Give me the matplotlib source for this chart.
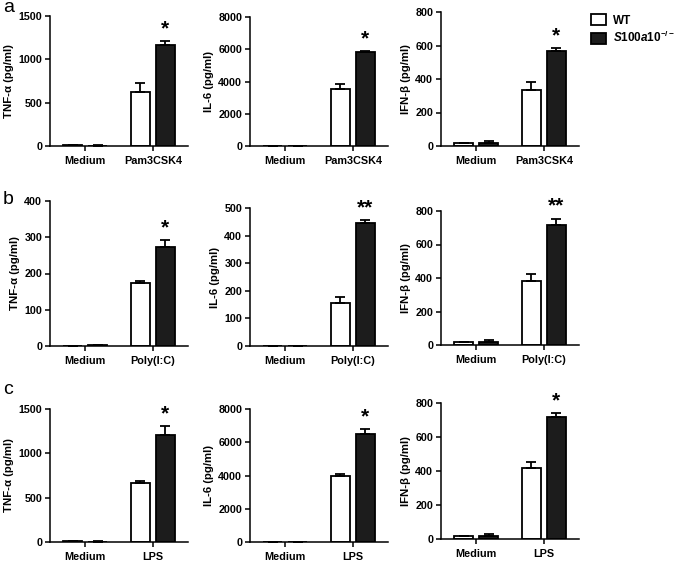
import matplotlib
matplotlib.use("Agg")
import matplotlib.pyplot as plt
from matplotlib.patches import Patch
import numpy as np

plt.rcParams['font.family'] = ['Liberation Sans', 'DejaVu Sans']
plt.rcParams['font.weight'] = 'bold'
plt.rcParams['mathtext.fontset'] = 'custom'
plt.rcParams['mathtext.it'] = 'Liberation Sans:italic:bold'
plt.rcParams['mathtext.rm'] = 'Liberation Sans:bold'

# ---- data ----
rows = ['a', 'b', 'c']
stimuli = ['Pam3CSK4', 'Poly(I:C)', 'LPS']
cytokines = ['TNF-α (pg/ml)', 'IL-6 (pg/ml)', 'IFN-β (pg/ml)']
groups_medium = 'Medium'

# values: [Medium WT, Medium KO, Stim WT, Stim KO]
tnf_a = [10, 5, 620, 1160];      tnf_a_err = [3, 2, 105, 52]
il6_a = [0, 0, 3510, 5860];      il6_a_err = [0, 0, 310, 50]
ifn_a = [15, 20, 332, 570];      ifn_a_err = [5, 8, 50, 15]

tnf_b = [0, 2, 173, 272];        tnf_b_err = [0, 1, 5, 20]
il6_b = [0, 0, 157, 447];        il6_b_err = [0, 0, 20, 8]
ifn_b = [15, 20, 380, 715];      ifn_b_err = [5, 8, 42, 40]

tnf_c = [12, 5, 669, 1210];      tnf_c_err = [3, 2, 15, 100]
il6_c = [0, 0, 3950, 6520];      il6_c_err = [0, 0, 120, 280]
ifn_c = [15, 20, 419, 716];      ifn_c_err = [5, 8, 35, 27]

values = [[tnf_a, il6_a, ifn_a], [tnf_b, il6_b, ifn_b], [tnf_c, il6_c, ifn_c]]
errors = [[tnf_a_err, il6_a_err, ifn_a_err], [tnf_b_err, il6_b_err, ifn_b_err],
          [tnf_c_err, il6_c_err, ifn_c_err]]
stars = [['*', '*', '*'], ['*', '**', '**'], ['*', '*', '*']]
yticks = [[[0, 500, 1000, 1500], [0, 2000, 4000, 6000, 8000], [0, 200, 400, 600, 800]],
          [[0, 100, 200, 300, 400], [0, 100, 200, 300, 400, 500], [0, 200, 400, 600, 800]],
          [[0, 500, 1000, 1500], [0, 2000, 4000, 6000, 8000], [0, 200, 400, 600, 800]]]
legend_labels = ['WT', r'$\mathit{S100a10}^{-/-}$']

# ---- layout (pixels) ----
W, H = 678, 561
fig = plt.figure(figsize=(W / 100, H / 100), dpi=100)
col_left = [50, 250, 441]
col_w = 138
tops = [[16, 17, 12], [201, 208, 211], [409, 409, 403]]
bottoms = [[146, 146, 146], [346, 346, 345], [542, 542, 539]]

x_pos = np.array([0.02, 0.98, 2.62, 3.58])
bar_w = 0.71
centers = [0.5, 3.1]
face = ['white', '#1c1c1c']

for r in range(3):
    for c in range(3):
        t, b = tops[r][c], bottoms[r][c]
        ax = fig.add_axes([col_left[c] / W, 1 - b / H, col_w / W, (b - t) / H])
        v = values[r][c]
        e = errors[r][c]
        cols = [face[0], face[1], face[0], face[1]]
        ax.bar(x_pos, v, width=bar_w, color=cols, edgecolor='black', linewidth=1.3, zorder=2)
        ax.errorbar(x_pos, v, yerr=[np.zeros(4), e], fmt='none', ecolor='black',
                    elinewidth=1.3, capsize=3.5, capthick=1.3, zorder=3)
        ymax = yticks[r][c][-1]
        ax.set_ylim(0, ymax)
        ax.set_xlim(-0.85, 4.45)
        ax.set_yticks(yticks[r][c])
        ax.set_xticks(centers)
        ax.set_xticklabels([groups_medium, stimuli[r]])
        ax.tick_params(axis='both', direction='out', length=3.5, width=1.1, labelsize=7.7, pad=2)
        ax.tick_params(axis='x', labelsize=7.8, pad=4)
        for lab in ax.get_xticklabels() + ax.get_yticklabels():
            lab.set_fontweight('bold')
        ax.spines['top'].set_visible(False)
        ax.spines['right'].set_visible(False)
        ax.spines['left'].set_linewidth(1.1)
        ax.spines['bottom'].set_linewidth(1.1)
        ax.set_ylabel(cytokines[c], fontsize=8.2, fontweight='bold', labelpad=3)
        ax.annotate(stars[r][c], xy=(x_pos[3], v[3] + e[3]), xytext=(0, 2),
                    textcoords='offset points', ha='center', va='bottom',
                    fontsize=15, fontweight='bold')

# panel letters
fig.text(3 / W, 1 - 8 / H, 'a', fontsize=14, fontweight='normal', va='center', ha='left')
fig.text(3 / W, 1 - 199 / H, 'b', fontsize=14, fontweight='normal', va='center', ha='left')
fig.text(3 / W, 1 - 390 / H, 'c', fontsize=14, fontweight='normal', va='center', ha='left')

handles = [Patch(facecolor=face[0], edgecolor='black', linewidth=1.3),
           Patch(facecolor=face[1], edgecolor='black', linewidth=1.3)]
fig.legend(handles, legend_labels, loc='upper left', bbox_to_anchor=(591 / W, 1 - 14 / H),
           frameon=False, fontsize=8.5, handlelength=1.3, handleheight=1.1,
           handletextpad=0.6, labelspacing=0.3, borderaxespad=0, borderpad=0)

fig.savefig('out.png', dpi=100)
